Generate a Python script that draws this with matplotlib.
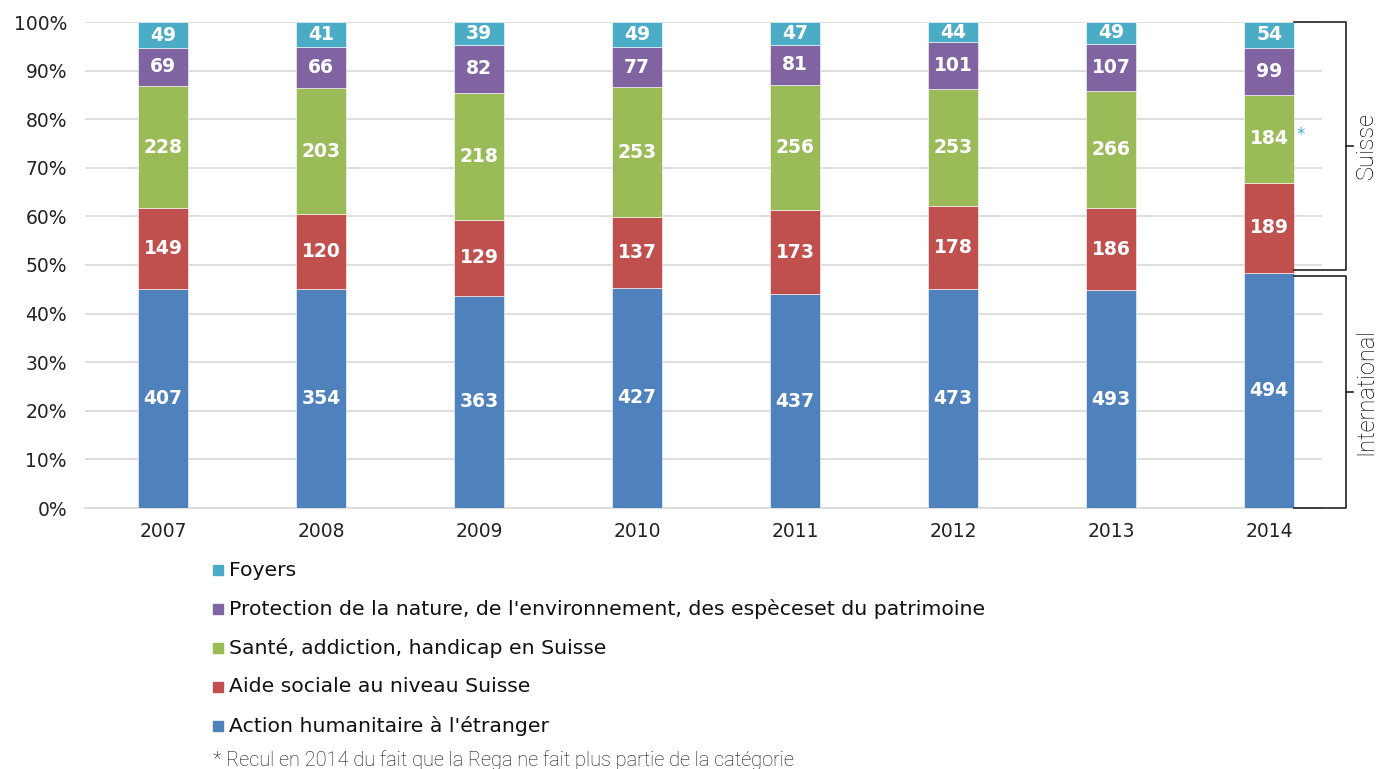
import numpy as np
import matplotlib.pyplot as plt
from matplotlib.patches import Rectangle

# data
years = ['2007', '2008', '2009', '2010', '2011', '2012', '2013', '2014']
action_humanitaire = [407, 354, 363, 427, 437, 473, 493, 494]
aide_sociale = [149, 120, 129, 137, 173, 178, 186, 189]
sante = [228, 203, 218, 253, 256, 253, 266, 184]
protection = [69, 66, 82, 77, 81, 101, 107, 99]
foyers = [49, 41, 39, 49, 47, 44, 49, 54]

series = [
    ("Action humanitaire à l'étranger", action_humanitaire, '#4F81BD'),
    ("Aide sociale au niveau Suisse", aide_sociale, '#C0504D'),
    ("Santé, addiction, handicap en Suisse", sante, '#9BBB59'),
    ("Protection de la nature, de l'environnement, des espèceset du patrimoine", protection, '#8064A2'),
    ("Foyers", foyers, '#4BACC6'),
]
footnote = "* Recul en 2014 du fait que la Rega ne fait plus partie de la catégorie"

W, H = 1377, 769
fig = plt.figure(figsize=(W / 100, H / 100), dpi=100)
ax = fig.add_axes([85 / W, (H - 508) / H, (1322 - 85) / W, (508 - 22) / H])

x = np.arange(len(years))
totals = np.sum([s[1] for s in series], axis=0)
bottom = np.zeros(len(years))
bw = 0.32
for name, vals, col in series:
    share = np.array(vals) / totals * 100
    ax.bar(x, share, bw, bottom=bottom, color=col, edgecolor='white', linewidth=0.4, zorder=3)
    for xi, b, s, v in zip(x, bottom, share, vals):
        ax.text(xi, b + s / 2, str(v), ha='center', va='center', color='white',
                fontsize=13.5, fontweight='bold', family='DejaVu Sans', zorder=4)
    bottom += share

ax.set_xlim(-0.494, 7.335)
ax.set_ylim(0, 100)
ax.set_yticks(np.arange(0, 101, 10))
ax.set_yticklabels([f'{v}%' for v in range(0, 101, 10)])
ax.set_xticks(x)
ax.set_xticklabels(years)
ax.tick_params(axis='both', length=0, labelsize=13.5, colors='#222222')
ax.tick_params(axis='x', pad=10)
ax.tick_params(axis='y', pad=13)
ax.yaxis.grid(True, color='#d9d9d9', linewidth=1.2, zorder=0)
for sp in ['top', 'right', 'left']:
    ax.spines[sp].set_visible(False)
ax.spines['bottom'].set_color('#d9d9d9')
ax.spines['bottom'].set_linewidth(1.2)

# asterisk next to 2014 green segment
green_mid = (action_humanitaire[-1] + aide_sociale[-1] + sante[-1] / 2) / totals[-1] * 100
ax.text(7 + 0.2, green_mid + 0.8, '*', color='#4BACC6', fontsize=12, ha='center', va='center',
        clip_on=False)

# brackets on the right
split = action_humanitaire[-1] / totals[-1] * 100
x0, x1, xt, xl = 7 + bw / 2, 7.487, 7.531, 7.615
for lo, hi, label in [(split + 0.6, 100, 'Suisse'), (0, split - 0.6, 'International')]:
    ax.plot([x0, x1, x1, x0], [hi, hi, lo, lo], color='#222222', lw=1.2, clip_on=False, zorder=5)
    mid = (lo + hi) / 2
    ax.plot([x1, xt], [mid, mid], color='#222222', lw=1.2, clip_on=False)
    ax.text(xl, mid, label, rotation=90, ha='center', va='center', fontsize=17,
            color='#000000', family='Roboto', fontweight='light', clip_on=False)

# legend
rows_y = [570, 609, 648, 687, 726]
for (name, vals, col), yy in zip(series[::-1], rows_y):
    fig.patches.append(Rectangle((213 / W, (H - yy - 5) / H), 10 / W, 10 / H,
                                 transform=fig.transFigure, color=col))
    fig.text(229 / W, (H - yy) / H, name, ha='left', va='center', fontsize=14.7,
             family='DejaVu Sans', color='#111111')

fig.text(213 / W, (H - 760) / H, footnote, ha='left', va='center', fontsize=14.4,
         family='Roboto', fontweight='light', color='#111111')

fig.savefig('out.png', dpi=100)
